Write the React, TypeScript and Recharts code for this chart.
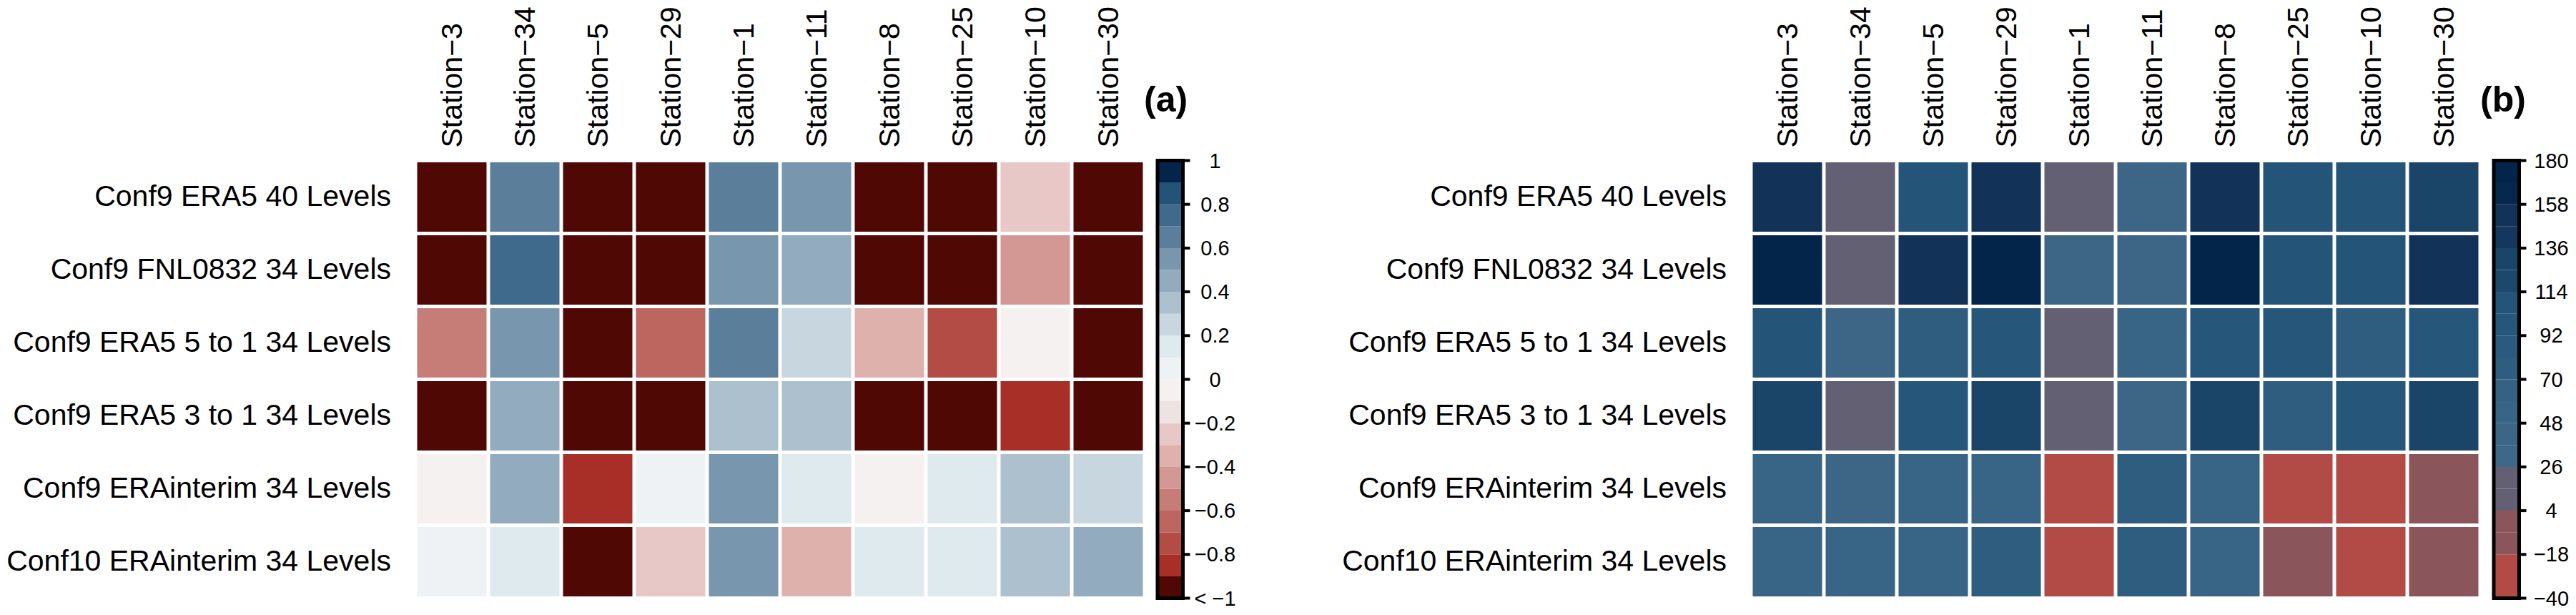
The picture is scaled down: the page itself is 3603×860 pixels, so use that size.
import { ScatterChart, Scatter, XAxis, YAxis, ComposedChart, ReferenceArea } from "recharts";

const stations = [
  "Station−3", "Station−34", "Station−5", "Station−29", "Station−1",
  "Station−11", "Station−8", "Station−25", "Station−10", "Station−30",
];

const configs = [
  "Conf9 ERA5 40 Levels",
  "Conf9 FNL0832 34 Levels",
  "Conf9 ERA5 5 to 1 34 Levels",
  "Conf9 ERA5 3 to 1 34 Levels",
  "Conf9 ERAinterim 34 Levels",
  "Conf10 ERAinterim 34 Levels",
];

// (a) correlation per config / station (dark maroon cells are below -1)
const corrValues = [
  [-1.2, 0.65, -1.2, -1.2, 0.65, 0.55, -1.2, -1.2, -0.25, -1.2],
  [-1.2, 0.75, -1.2, -1.2, 0.55, 0.45, -1.2, -1.2, -0.45, -1.2],
  [-0.55, 0.55, -1.2, -0.65, 0.65, 0.25, -0.35, -0.75, -0.05, -1.2],
  [-1.2, 0.45, -1.2, -1.2, 0.35, 0.35, -1.2, -1.2, -0.85, -1.2],
  [-0.05, 0.45, -0.85, 0.05, 0.55, 0.15, -0.05, 0.15, 0.35, 0.25],
  [0.05, 0.15, -1.2, -0.25, 0.55, -0.35, 0.15, 0.15, 0.35, 0.45],
];

// (b) second metric per config / station
const biasValues = [
  [150, 15, 105, 150, 15, 40, 150, 105, 105, 130],
  [170, 15, 150, 170, 40, 40, 170, 105, 105, 150],
  [105, 40, 80, 100, 15, 55, 100, 100, 80, 100],
  [130, 15, 100, 125, 15, 40, 125, 80, 100, 125],
  [55, 45, 55, 55, -30, 70, 55, -30, -30, -5],
  [55, 55, 55, 75, -30, 80, 55, -5, -30, -5],
];

const corrBreaks = [
  -1, -0.9, -0.8, -0.7, -0.6, -0.5, -0.4, -0.3, -0.2, -0.1, 0,
  0.1, 0.2, 0.3, 0.4, 0.5, 0.6, 0.7, 0.8, 0.9, 1,
];
const corrColors = [
  "#500805", "#a72f28", "#b24c44", "#bd665f", "#c77d77",
  "#d39893", "#deb1ad", "#e8c8c6", "#efe2e2", "#f5f1f0",
  "#eef2f4", "#dfeaee", "#c8d6df", "#acc0ce", "#93abbf",
  "#7896ae", "#5b7f9b", "#3f6a8c", "#235478", "#03254b",
];
const corrTicks = [-1, -0.8, -0.6, -0.4, -0.2, 0, 0.2, 0.4, 0.6, 0.8, 1];
const corrTickLabels = ["< −1", "−0.8", "−0.6", "−0.4", "−0.2", "0", "0.2", "0.4", "0.6", "0.8", "1"];

const biasBreaks = [
  -40, -29, -18, -7, 4, 15, 26, 37, 48, 59, 70,
  81, 92, 103, 114, 125, 136, 147, 158, 169, 180,
];
const biasColors = [
  "#b24a45", "#b24a45", "#8b555c", "#8b555c", "#646073",
  "#646073", "#3f6888", "#3d6686", "#386485", "#356183",
  "#2f5d80", "#2c5a7e", "#26567a", "#245478", "#1c486c",
  "#1a4468", "#14375d", "#123258", "#06284d", "#04254a",
];
const biasTicks = [-40, -18, 4, 26, 48, 70, 92, 114, 136, 158, 180];
const biasTickLabels = ["−40", "−18", "4", "26", "48", "70", "92", "114", "136", "158", "180"];

const FONT = "'Liberation Sans', Arial, Helvetica, sans-serif";
const CHART_H = 860;
const PLOT_TOP = 224.5;
const PLOT_BOTTOM_GAP = 23.5;
const LABEL_W = 581;
const PLOT_W = 1020;
const GAP = 5;

const colorFor = (v: number, breaks: number[], colors: string[]) => {
  for (let i = 0; i < colors.length; i++) {
    if (v < breaks[i + 1]) return colors[i];
  }
  return colors[colors.length - 1];
};

const StationTick = ({ x, y, payload }: any) => (
  <text
    x={x}
    y={y}
    transform={`rotate(-90 ${x} ${y})`}
    textAnchor="start"
    dy="0.35em"
    fontSize={41}
    fontFamily={FONT}
    fill="#000"
  >
    {stations[payload.value]}
  </text>
);

const ConfigTick = ({ x, y, payload }: any) => (
  <text x={x} y={y} textAnchor="end" dy="0.3em" fontSize={41} fontFamily={FONT} fill="#000">
    {configs[payload.value]}
  </text>
);

function Heatmap({
  values,
  breaks,
  colors,
  left,
}: {
  values: number[][];
  breaks: number[];
  colors: string[];
  left: number;
}) {
  const points = values.flatMap((row, i) => row.map((v, j) => ({ x: j, y: i, v })));
  const plotH = CHART_H - PLOT_TOP - PLOT_BOTTOM_GAP;
  const cellW = PLOT_W / stations.length - GAP;
  const cellH = plotH / configs.length - GAP;

  return (
    <div style={{ position: "absolute", left, top: 0 }}>
      <ScatterChart
        width={LABEL_W + PLOT_W + 9}
        height={CHART_H}
        margin={{ top: 0, right: 9, bottom: PLOT_BOTTOM_GAP, left: 0 }}
      >
        <XAxis
          type="number"
          dataKey="x"
          orientation="top"
          domain={[-0.5, stations.length - 0.5]}
          ticks={stations.map((_, i) => i)}
          interval={0}
          height={PLOT_TOP}
          tick={<StationTick />}
          tickSize={0}
          tickMargin={18}
          axisLine={false}
          tickLine={false}
        />
        <YAxis
          type="number"
          dataKey="y"
          reversed
          domain={[-0.5, configs.length - 0.5]}
          ticks={configs.map((_, i) => i)}
          interval={0}
          width={LABEL_W}
          tick={<ConfigTick />}
          tickSize={0}
          tickMargin={34}
          axisLine={false}
          tickLine={false}
        />
        <Scatter
          data={points}
          isAnimationActive={false}
          shape={(p: any) => (
            <rect
              x={p.cx - cellW / 2}
              y={p.cy - cellH / 2}
              width={cellW}
              height={cellH}
              fill={colorFor(p.payload.v, breaks, colors)}
            />
          )}
        />
      </ScatterChart>
    </div>
  );
}

function ColorBar({
  breaks,
  colors,
  ticks,
  tickLabels,
  left,
  width,
  title,
}: {
  breaks: number[];
  colors: string[];
  ticks: number[];
  tickLabels: string[];
  left: number;
  width: number;
  title: string;
}) {
  const bands = colors.map((c, i) => ({ pos: 0.5, lo: breaks[i], hi: breaks[i + 1], c }));
  const lo = breaks[0];
  const hi = breaks[breaks.length - 1];
  const BarTick = ({ x, y, payload }: any) => (
    <text x={x + 33} y={y} textAnchor="middle" dy="0.35em" fontSize={29} fontFamily={FONT} fill="#000">
      {tickLabels[ticks.indexOf(payload.value)]}
    </text>
  );

  return (
    <div style={{ position: "absolute", left, top: 0 }}>
      <div
        style={{
          position: "absolute",
          left: 0,
          top: 114,
          width: 55,
          textAlign: "center",
          fontSize: 50,
          lineHeight: "50px",
          fontWeight: "bold",
          fontFamily: FONT,
        }}
      >
        {title}
      </div>
      <ComposedChart
        width={width}
        height={CHART_H}
        data={bands}
        margin={{ top: PLOT_TOP, right: 0, bottom: PLOT_BOTTOM_GAP, left: 19 }}
      >
        <XAxis type="number" dataKey="pos" hide domain={[0, 1]} allowDataOverflow />
        <YAxis
          type="number"
          dataKey="lo"
          orientation="right"
          domain={[lo, hi]}
          allowDataOverflow
          ticks={ticks}
          interval={0}
          width={width - 19 - 35.5}
          tick={<BarTick />}
          tickSize={10}
          tickMargin={2}
          axisLine={false}
          tickLine={{ stroke: "#000", strokeWidth: 4 }}
        />
        {bands.map((b, i) => (
          <ReferenceArea
            key={i}
            x1={0}
            x2={1}
            y1={b.lo}
            y2={b.hi}
            fill={b.c}
            fillOpacity={1}
            stroke="none"
          />
        ))}
        <ReferenceArea x1={0} x2={1} y1={lo} y2={hi} fill="none" stroke="#000" strokeWidth={5} />
      </ComposedChart>
    </div>
  );
}

export default function App() {
  return (
    <div
      style={{
        position: "absolute",
        left: 0,
        top: 0,
        width: 3603,
        height: 860,
        background: "#fff",
        fontFamily: FONT,
        overflow: "hidden",
      }}
    >
      <Heatmap values={corrValues} breaks={corrBreaks} colors={corrColors} left={0} />
      <ColorBar
        breaks={corrBreaks}
        colors={corrColors}
        ticks={corrTicks}
        tickLabels={corrTickLabels}
        left={1600}
        width={160}
        title="(a)"
      />
      <Heatmap values={biasValues} breaks={biasBreaks} colors={biasColors} left={1868} />
      <ColorBar
        breaks={biasBreaks}
        colors={biasColors}
        ticks={biasTicks}
        tickLabels={biasTickLabels}
        left={3469}
        width={134}
        title="(b)"
      />
    </div>
  );
}
